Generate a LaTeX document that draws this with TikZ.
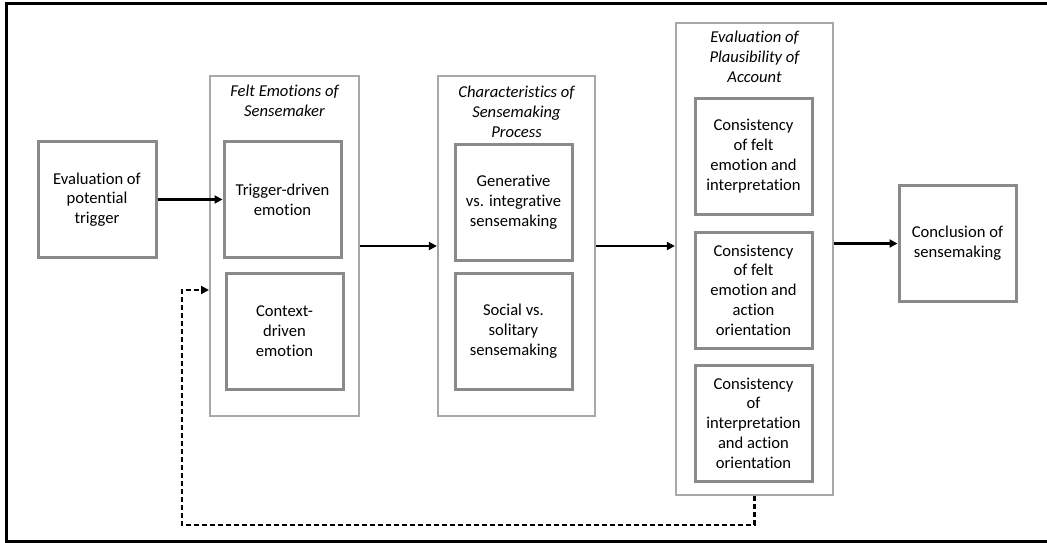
\documentclass[tikz,border=0pt]{standalone}
\usepackage{fontspec}
\setmainfont[Ligatures=NoCommon]{Carlito}
\usetikzlibrary{arrows.meta}
\definecolor{boxgray}{HTML}{8A8A8A}
\definecolor{contgray}{HTML}{A8A8A8}
\tikzset{
  inner box/.style={draw=boxgray, line width=3pt, fill=white, minimum width=117pt, minimum height=116pt, align=center, inner sep=2pt, font=\fontsize{16.6}{19.8}\selectfont},
  container/.style={draw=contgray, line width=2.2pt, minimum width=149pt, align=center},
  title/.style={align=center, font=\fontsize{16.6}{19.8}\selectfont\itshape},
  flow/.style={line width=2.3pt, -{Triangle[length=8pt,width=8pt]}},
  feedback/.style={line width=2.3pt, dash pattern=on 5pt off 3pt, -{Triangle[length=8pt,width=8pt]}},
  frame/.style={line width=3pt, draw=black}
}
\begin{document}
\begin{tikzpicture}[x=1pt,y=-1pt]
\useasboundingbox (0,0) rectangle (1047,543);
\draw[frame] (1048,4) -- (6,4) -- (6,541.5) -- (1048,541.5);

% containers
\node[container, minimum height=340pt] (C1) at (284.5,246) {};
\node[container, minimum width=157pt, minimum height=340pt] (C2) at (516.5,246) {};
\node[container, minimum width=157pt, minimum height=472pt] (C3) at (754.5,259) {};

% titles
\node[title] (t1) at (284.5,101) {Felt Emotions of\\Sensemaker};
\node[title] (t2) at (516.5,112) {Characteristics of\\Sensemaking\\Process};
\node[title] (t3) at (754.5,57) {Evaluation of\\Plausibility of\\Account};

% boxes
\node[inner box, minimum width=118pt] (trig) at (97,199.5) {Evaluation of\\potential\\trigger};
\node[inner box] (td) at (282.5,199.5) {Trigger-driven\\emotion};
\node[inner box] (cd) at (284.5,331) {Context-\\driven\\emotion};
\node[inner box] (gen) at (513.5,202.5) {Generative\\vs. integrative\\sensemaking};
\node[inner box] (soc) at (513.5,331) {Social vs.\\solitary\\sensemaking};
\node[inner box] (cons1) at (753.5,156) {Consistency\\of felt\\emotion and\\interpretation};
\node[inner box] (cons2) at (753.5,290) {Consistency\\of felt\\emotion and\\action\\orientation};
\node[inner box] (cons3) at (753.5,423) {Consistency\\of\\interpretation\\and action\\orientation};
\node[inner box] (concl) at (957.5,243.5) {Conclusion of\\sensemaking};

% connectors
\draw[flow] (trig.east) -- (td.west);
\draw[flow] (C1.east) -- (C2.west);
\draw[flow] (C2.east) -- (C2.east -| C3.west);
\draw[flow] (concl.west -| C3.east) -- (concl.west);

\coordinate (fb) at (182,525);
\coordinate (fbin) at (209,290);
\draw[feedback] (C3.south) |- (fb) |- (fbin);
\end{tikzpicture}
\end{document}
